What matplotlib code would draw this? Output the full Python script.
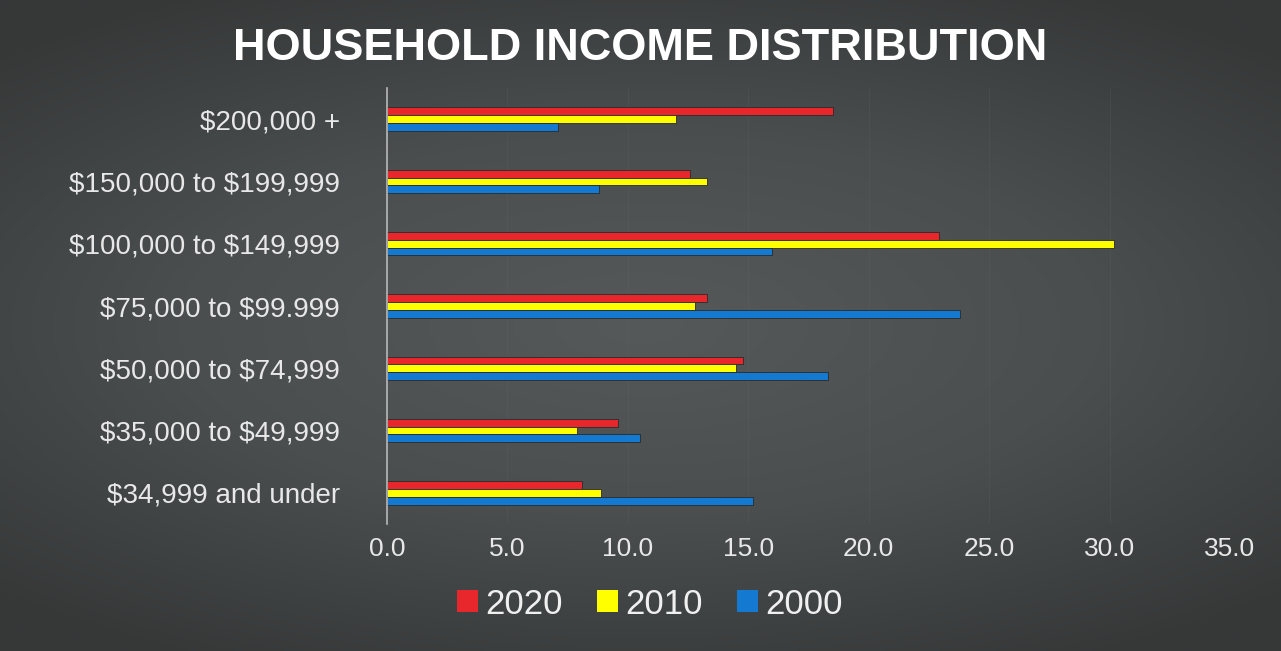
import numpy as np
import matplotlib.pyplot as plt
from matplotlib.colors import LinearSegmentedColormap

categories = [r'\$34,999 and under', r'\$35,000 to \$49,999', r'\$50,000 to \$74,999',
              r'\$75,000 to \$99.999', r'\$100,000 to \$149,999', r'\$150,000 to \$199,999',
              r'\$200,000 +']
v2020 = [8.1, 9.6, 14.8, 13.3, 22.9, 12.6, 18.5]
v2010 = [8.9, 7.9, 14.5, 12.8, 30.2, 13.3, 12.0]
v2000 = [15.2, 10.5, 18.3, 23.8, 16.0, 8.8, 7.1]
xticks = [0, 5, 10, 15, 20, 25, 30, 35]

plt.rcParams['font.family'] = ['Liberation Sans', 'DejaVu Sans']

fig = plt.figure(figsize=(12.81, 6.51), dpi=100)

# radial gradient background
bg = fig.add_axes([0, 0, 1, 1])
yy, xx = np.mgrid[-1:1:300j, -1:1:600j]
r = np.sqrt((xx * 0.9) ** 2 + (yy * 1.1) ** 2)
cmap = LinearSegmentedColormap.from_list('bg', ['#555959', '#4a4e4e', '#363838'])
bg.imshow(r, cmap=cmap, aspect='auto', extent=[0, 1, 0, 1], vmin=0, vmax=1.3)
bg.axis('off')

ax = fig.add_axes([387 / 1281, 1 - 524 / 651, (1230 - 387) / 1281, (524 - 88) / 651])
ax.set_facecolor('none')

y = np.arange(len(categories))
h = 0.125
ax.barh(y + h, v2020, height=h, color='#e8272c', edgecolor='#2a2a2a', linewidth=0.6, label='2020')
ax.barh(y, v2010, height=h, color='#ffff00', edgecolor='#2a2a2a', linewidth=0.6, label='2010')
ax.barh(y - h, v2000, height=h, color='#1479d0', edgecolor='#2a2a2a', linewidth=0.6, label='2000')

ax.set_xlim(0, 35)
ax.set_ylim(-0.5, len(categories) - 0.5)
ax.set_xticks(xticks)
ax.set_xticklabels([f'{t:.1f}' for t in xticks])
ax.set_yticks(y)
ax.set_yticklabels(categories)
ax.tick_params(axis='both', length=0, colors='#e8e8e8')
ax.tick_params(axis='y', pad=34, labelsize=20)
ax.tick_params(axis='x', pad=9, labelsize=19)
ax.grid(axis='x', color='#6a6e6e', linewidth=0.6, alpha=0.2)
ax.set_axisbelow(True)
for s in ['top', 'right', 'bottom']:
    ax.spines[s].set_visible(False)
ax.spines['left'].set_color('#b8b8b8')
ax.spines['left'].set_linewidth(1.2)

fig.text(0.5, 1 - 48 / 651, 'HOUSEHOLD INCOME DISTRIBUTION', ha='center', va='center',
         color='white', fontsize=32.5, fontweight='bold')

handles, labels = ax.get_legend_handles_labels()
leg = fig.legend(handles, labels, loc='center', bbox_to_anchor=(650 / 1281, 1 - 604 / 651), ncol=3,
                 frameon=False, fontsize=25, labelcolor='#f0f0f0', handlelength=0.6,
                 handleheight=0.6, handletextpad=0.2, columnspacing=1.0)
for p in leg.get_patches():
    p.set_edgecolor('none')

fig.savefig('out.png', dpi=100)
